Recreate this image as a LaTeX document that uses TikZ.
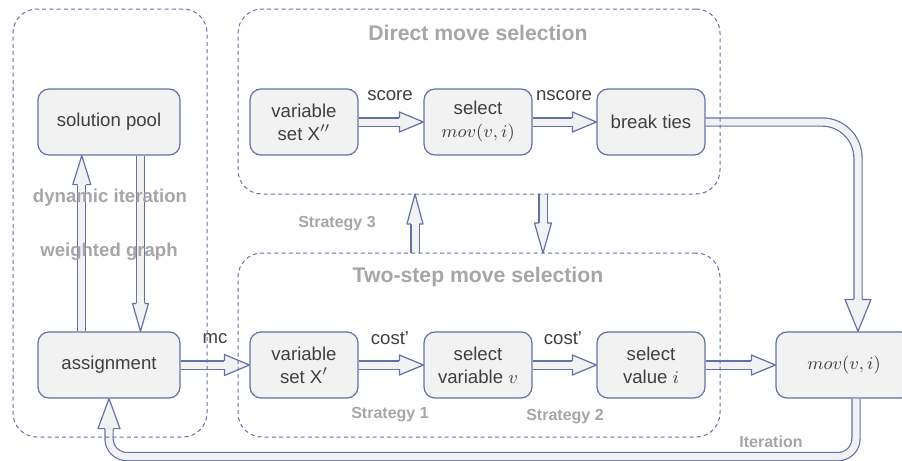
\documentclass[tikz,border=0pt]{standalone}
\usepackage{fontspec}
\setmainfont{Liberation Sans}
\usepackage{tikz}
\usetikzlibrary{calc}
\definecolor{edgeblue}{HTML}{6471A8}
\definecolor{boxgray}{HTML}{F2F2F2}
\definecolor{textgray}{HTML}{404040}
\definecolor{titlegray}{HTML}{A6A6A6}
\tikzset{box/.style={draw=edgeblue,line width=0.6pt,fill=boxgray,rounded corners=5.5pt,
    text=textgray,align=center,font=\fontsize{9.3}{11.5}\selectfont,
    minimum height=33pt,minimum width=54pt,inner sep=0pt},
    group/.style={draw=edgeblue,line width=0.5pt,dash pattern=on 2pt off 1.6pt,
    rounded corners=12pt,inner sep=0pt},
    shaft/.style={draw=edgeblue,line width=0.6pt,double=boxgray,double distance=3.5pt},
    headfill/.style={fill=boxgray},
    headline/.style={draw=edgeblue,line width=0.6pt,line join=round},
    lbl/.style={text=textgray,font=\fontsize{9.3}{11}\selectfont},
    greylbl/.style={text=titlegray,font=\bfseries\fontsize{9.3}{11}\selectfont},
    grouptitle/.style={text=titlegray,font=\bfseries\fontsize{10.6}{12}\selectfont},
    strat/.style={text=titlegray,font=\bfseries\fontsize{8}{10}\selectfont}}
% head of a block arrow: base, tip, half width
\newcommand{\headto}[3]{%
    \fill[headfill] ($(#1)!#3!90:(#2)$) -- (#2) -- ($(#1)!#3!-90:(#2)$) -- cycle;
    \draw[headline] ($(#1)!2.05pt!90:(#2)$) -- ($(#1)!#3!90:(#2)$) -- (#2)
        -- ($(#1)!#3!-90:(#2)$) -- ($(#1)!2.05pt!-90:(#2)$);}
% straight block arrow: from, to, head length, half width
\newcommand{\blockarrow}[4]{%
    \coordinate (hb) at ($(#2)!#3!(#1)$);
    \draw[shaft] (#1) -- (hb);
    \headto{hb}{#2}{#4}}

\begin{document}
\begin{tikzpicture}[x=0.5pt,y=-0.5pt]
\useasboundingbox (0,0) rectangle (902,461);

\node[box,minimum width=71pt] (pool) at (109,122) {solution pool};
\node[box,minimum width=71pt] (assign) at (109,365) {assignment};

\node[box] (var1) at (304,122) {variable\\set X$''$};
\node[box] (sel1) at (478,122) {select\\$mov(v,i)$};
\node[box] (ties) at (651,122) {break ties};

\node[box] (var2) at (304,365) {variable\\set X$'$};
\node[box] (sel2) at (478,365) {select\\variable $v$};
\node[box] (val) at (651,365) {select\\value $i$};
\node[box,minimum width=68pt] (mov) at (844,365) {$mov(v,i)$};

\coordinate (leftbox) at (110,223);
\coordinate (directc) at (479,101.5);
\coordinate (twostepc) at (479,345);

\blockarrow{var1.east}{sel1.west}{12pt}{5pt}
\blockarrow{sel1.east}{ties.west}{12pt}{5pt}
\blockarrow{var2.east}{sel2.west}{12pt}{5pt}
\blockarrow{sel2.east}{val.west}{12pt}{5pt}
\blockarrow{val.east}{mov.west}{12pt}{5pt}
\blockarrow{assign.east}{var2.west}{12.5pt}{5.25pt}

\coordinate (upfoot) at ($(assign.north west)!0.31!(assign.north east)$);
\coordinate (uptip) at ($(pool.south west)!0.31!(pool.south east)$);
\blockarrow{upfoot}{uptip}{14.5pt}{4.5pt}
\coordinate (downfoot) at ($(pool.south west)!0.72!(pool.south east)$);
\coordinate (downtip) at ($(assign.north west)!0.72!(assign.north east)$);
\blockarrow{downfoot}{downtip}{14pt}{4pt}

\coordinate (s3foot) at ($(twostepc)+(-64,-92)$);
\coordinate (s3tip) at ($(directc)+(-64,92.5)$);
\blockarrow{s3foot}{s3tip}{15pt}{4pt}
\coordinate (s4foot) at ($(directc)+(64,92.5)$);
\coordinate (s4tip) at ($(twostepc)+(64,-92)$);
\blockarrow{s4foot}{s4tip}{15pt}{4.25pt}

\coordinate (tiesdrop) at ($(mov.north)+(14,0)$);
\coordinate (dropbase) at ($(tiesdrop)+(0,-32)$);
\draw[shaft,rounded corners=18pt] (ties.east) -| (dropbase);
\headto{dropbase}{tiesdrop}{6.5pt}

\coordinate (movfoot) at ($(mov.south)+(12,0)$);
\coordinate (loopcorner) at ($(assign.south)+(0,58)$);
\coordinate (loopbase) at ($(assign.south)+(0,30)$);
\draw[shaft,rounded corners=9pt] (movfoot) |- (loopcorner) -- (loopbase);
\headto{loopbase}{assign.south}{5.5pt}

\node[group,minimum width=97pt,minimum height=214pt] (left) at (leftbox) {};
\node[group,minimum width=241pt,minimum height=92.5pt] (direct) at (directc) {};
\node[group,minimum width=241pt,minimum height=92pt] (twostep) at (twostepc) {};

\node[grouptitle] (directtitle) at (478,33) {Direct move selection};
\node[grouptitle] (twosteptitle) at (478,277) {Two-step move selection};

\node[lbl] (score) at (390,96) {score};
\node[lbl] (nscore) at (564,96) {nscore};
\node[lbl] (cost1) at (390,338) {cost’};
\node[lbl] (cost2) at (563,338) {cost’};
\node[lbl] (mc) at (215,339) {mc};

\node[greylbl] (dyn) at (110,198) {dynamic iteration};
\node[greylbl] (wgraph) at (109,252) {weighted graph};

\node[strat] (strat1) at (390,415) {Strategy 1};
\node[strat] (strat2) at (565,417) {Strategy 2};
\node[strat] (strat3) at (337,224) {Strategy 3};
\node[strat] (iter) at (771,442) {Iteration};
\end{tikzpicture}
\end{document}
